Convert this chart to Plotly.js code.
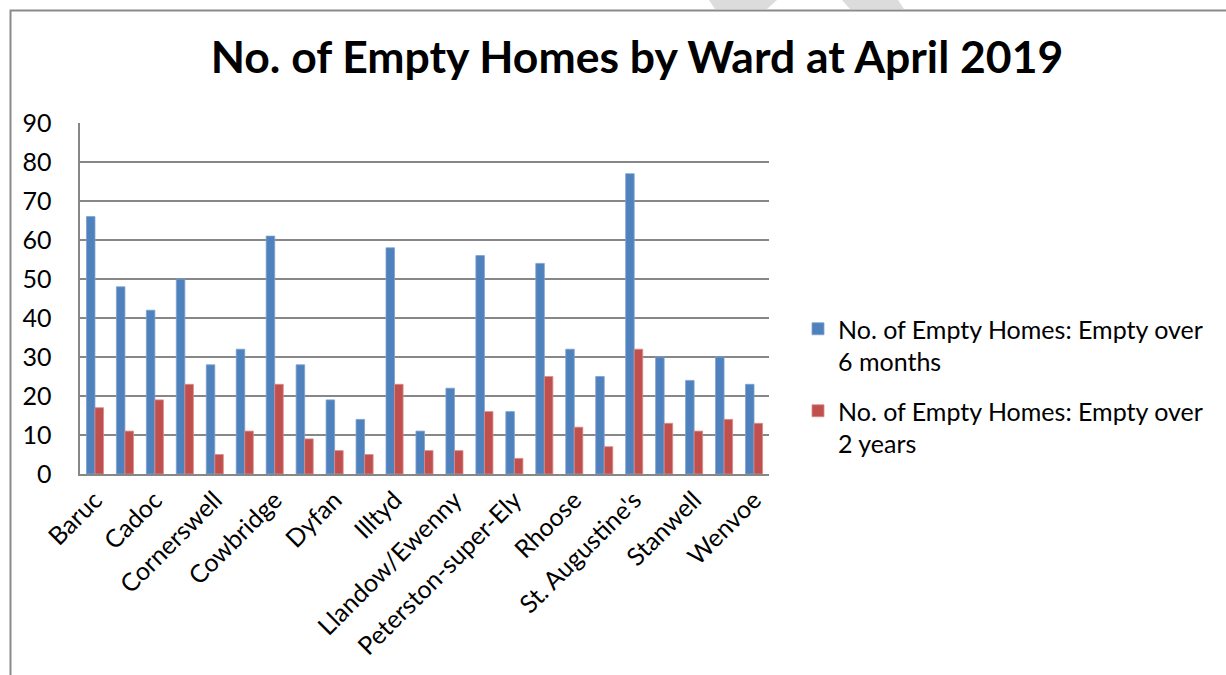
<!DOCTYPE html>
<html>
<head>
<meta charset="utf-8">
<script src="https://cdn.plot.ly/plotly-3.0.1.min.js"></script>
<style>html,body{margin:0;padding:0;background:#fff;}#chart{width:1226px;height:675px;}</style>
</head>
<body>
<div id="chart"></div>
<script>
const wards = ["Baruc","Buttrills","Cadoc","Castleland","Cornerswell","Court","Cowbridge","Dinas Powys","Dyfan","Gibbonsdown","Illtyd","Llandough","Llandow/Ewenny","Llantwit Major","Peterston-super-Ely","Plymouth","Rhoose","St. Athan","St. Augustine's","St. Bride's Major","Stanwell","Sully","Wenvoe"];
const shownLabels = ["Baruc","Cadoc","Cornerswell","Cowbridge","Dyfan","Illtyd","Llandow/Ewenny","Peterston-super-Ely","Rhoose","St. Augustine's","Stanwell","Wenvoe"];
const over6Months = [66,48,42,50,28,32,61,28,19,14,58,11,22,56,16,54,32,25,77,30,24,30,23];
const over2Years  = [17,11,19,23,5,11,23,9,6,5,23,6,6,16,4,25,12,7,32,13,11,14,13];
const seriesNames = ["No. of Empty Homes: Empty over<br>6 months","No. of Empty Homes: Empty over<br>2 years"];
const titleText = "No. of Empty Homes by Ward at April 2019";

const W = 1226, H = 675, L = 80, R = 457, T = 123, B = 201;
const pw = W - L - R, ph = H - T - B;
const px = x => (x - L) / pw;
const py = y => (H - B - y) / ph;
const pt = (x, y) => px(x) + "," + py(y);

const font = "Lato, 'Open Sans', sans-serif";

const traces = [
  {type:"bar", x:wards, y:over6Months, name:seriesNames[0], legendgroup:"a",
   marker:{color:"#4F81BD", line:{color:"#7DA1CF", width:0.8}}},
  {type:"bar", x:wards, y:over2Years, name:seriesNames[1], legendgroup:"b",
   marker:{color:"#C0504D", line:{color:"#D88B89", width:0.8}}}
];

const layout = {
  width: W, height: H,
  margin: {l: L, r: R, t: T, b: B},
  paper_bgcolor: "#fff", plot_bgcolor: "#fff",
  font: {family: font, size: 25, color: "#000"},
  title: {text: "<b>" + titleText + "</b>", font: {family: font, size: 44.5, color: "#000"},
          x: 637 / W, xref: "container", xanchor: "center",
          y: 1 - 57 / H, yref: "container", yanchor: "middle"},
  barmode: "group", bargap: 0.43, bargroupgap: 0,
  showlegend: true,
  legend: {x: px(798), xanchor: "left", y: py(306), yanchor: "top",
           font: {family: font, size: 25, color: "#000"}, valign: "top",
           tracegroupgap: 14, bgcolor: "rgba(0,0,0,0)"},
  xaxis: {type: "category", tickmode: "array", tickvals: shownLabels, ticktext: shownLabels,
          tickangle: -45, showgrid: false, showline: true, linecolor: "#878787", linewidth: 1.6,
          ticks: "", tickfont: {family: font, size: 25, color: "#000"}, fixedrange: true},
  yaxis: {range: [0, 90], dtick: 10, tick0: 0, showgrid: true, gridcolor: "#878787", gridwidth: 1.6,
          showline: true, linecolor: "#878787", linewidth: 1.6, zeroline: false,
          ticks: "", ticklabelstandoff: 22,
          tickfont: {family: font, size: 25, color: "#000"}, fixedrange: true},
  shapes: [
    {type: "path", xref: "paper", yref: "paper", layer: "below",
     path: "M" + pt(709, 0) + "L" + pt(777, 0) + "L" + pt(767, 9) + "L" + pt(715, 9) + "Z",
     fillcolor: "#DCDCDC", line: {width: 0}},
    {type: "path", xref: "paper", yref: "paper", layer: "below",
     path: "M" + pt(842, 0) + "L" + pt(898, 0) + "L" + pt(904, 9) + "L" + pt(850, 9) + "Z",
     fillcolor: "#DCDCDC", line: {width: 0}},
    {type: "path", xref: "paper", yref: "paper", layer: "above",
     path: "M" + pt(10.5, 676) + "L" + pt(10.5, 10.5) + "L" + pt(1227, 10.5),
     line: {color: "#8A8A8A", width: 2}}
  ]
};

Plotly.newPlot("chart", traces, layout, {displayModeBar: false, staticPlot: true});
</script>
</body>
</html>
